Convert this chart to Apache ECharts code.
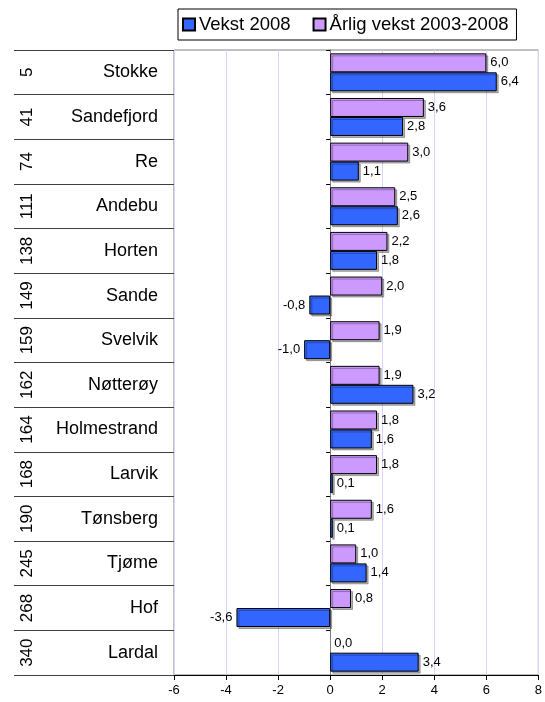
<!DOCTYPE html>
<html>
<head>
<meta charset="utf-8">
<script src="https://cdn.jsdelivr.net/npm/echarts@6/dist/echarts.min.js"></script>
<style>html,body{margin:0;padding:0;background:#fff;}#c{width:545px;height:702px;}</style>
</head>
<body>
<div id="c"></div>
<script>
var ranks = ['5','41','74','111','138','149','159','162','164','168','190','245','268','340'];
var names = ['Stokke','Sandefjord','Re','Andebu','Horten','Sande','Svelvik','Nøtterøy','Holmestrand','Larvik','Tønsberg','Tjøme','Hof','Lardal'];
var vekst2008 = [6.4, 2.8, 1.1, 2.6, 1.8, -0.8, -1.0, 3.2, 1.6, 0.1, 0.1, 1.4, -3.6, 3.4];
var aarligVekst = [6.0, 3.6, 3.0, 2.5, 2.2, 2.0, 1.9, 1.9, 1.8, 1.8, 1.6, 1.0, 0.8, 0.0];
var xTicks = [-6, -4, -2, 0, 2, 4, 6, 8];

var FONT = 'Liberation Sans, Arial, sans-serif';
function fmt(p){ return p.value.toFixed(1).replace('.', ','); }
function lbl(){
  return {show:true, formatter:fmt, fontFamily:FONT, fontSize:13, color:'#000', distance:4,
    position: 'right'};
}
function data(arr){
  return arr.map(function(v){
    var d = {value:v, label:{position: v < 0 ? 'left' : 'right'}};
    if (v === 0) d.itemStyle = {borderWidth:0, shadowColor:'rgba(0,0,0,0)'};
    return d;
  });
}
var chart = echarts.init(document.getElementById('c'), null, {renderer:'canvas'});
chart.setOption({
  animation:false,
  backgroundColor:'#fff',
  textStyle:{fontFamily:FONT},
  legend:{
    left:178, top:9, itemWidth:12, itemHeight:12, itemGap:22,
    padding:[6,8,6,4], borderColor:'#000', borderWidth:1,
    icon:'rect',
    textStyle:{fontFamily:FONT, fontSize:18.5, color:'#000', padding:[0,0,0,-1]},
    data:['Vekst 2008','Årlig vekst 2003-2008']
  },
  grid:{left:174, right:3, top:50, bottom:27, show:true, borderColor:'#808080', borderWidth:1},
  xAxis:{
    type:'value', min:xTicks[0], max:xTicks[xTicks.length-1], interval:2,
    axisLine:{show:true, onZero:false, lineStyle:{color:'#000'}},
    axisTick:{show:true, length:5, lineStyle:{color:'#000'}},
    axisLabel:{fontFamily:FONT, fontSize:13, color:'#000', margin:9},
    splitLine:{show:true, lineStyle:{color:'#d4d4ff'}}
  },
  yAxis:[
    {type:'category', data:names, inverse:true,
      axisLine:{show:true, onZero:true, lineStyle:{color:'#808080'}},
      axisTick:{show:true, length:4, lineStyle:{color:'#000'}},
      axisLabel:{show:false}},
    {type:'category', data:names, inverse:true, position:'left',
      axisLine:{show:false, onZero:false},
      axisTick:{show:true, length:160, lineStyle:{color:'#404040'}},
      axisLabel:{show:true, fontFamily:FONT, fontSize:18, color:'#000', margin:16}},
    {type:'category', data:ranks, inverse:true, position:'left',
      axisLine:{show:false, onZero:false},
      axisTick:{show:false},
      axisLabel:{show:true, fontFamily:FONT, fontSize:17, color:'#000', rotate:90, margin:147, align:'center', verticalAlign:'middle'}}
  ],
  series:[
    {name:'Årlig vekst 2003-2008', type:'bar', yAxisIndex:0, data:data(aarligVekst),
      barGap:'0%', barCategoryGap:'15%',
      itemStyle:{color:'#CC99FF', borderColor:'#000', borderWidth:1, shadowColor:'rgba(0,0,0,0.3)', shadowOffsetX:2, shadowOffsetY:2},
      label:lbl()},
    {name:'Vekst 2008', type:'bar', yAxisIndex:0, data:data(vekst2008),
      barGap:'0%', barCategoryGap:'15%',
      itemStyle:{color:'#3366FF', borderColor:'#000', borderWidth:1, shadowColor:'rgba(0,0,0,0.3)', shadowOffsetX:2, shadowOffsetY:2},
      label:lbl()}
  ]
});
</script>
</body>
</html>
